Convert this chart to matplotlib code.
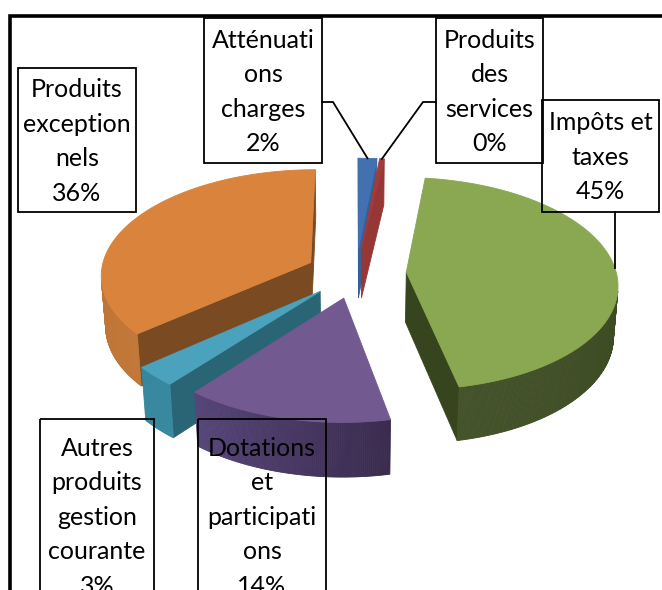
import numpy as np
import matplotlib
matplotlib.use("Agg")
import matplotlib.pyplot as plt
from matplotlib.patches import Polygon, Rectangle
import matplotlib.colors as mcolors

plt.rcParams['font.family'] = ['Lato', 'DejaVu Sans']

# ---------------- data ----------------
categories = ["Atténuations charges", "Produits des services", "Impôts et taxes",
              "Dotations et participations", "Autres produits gestion courante",
              "Produits exceptionnels"]
label_lines = [["Atténuati", "ons", "charges"],
               ["Produits", "des", "services"],
               ["Impôts et", "taxes"],
               ["Dotations", "et", "participati", "ons"],
               ["Autres", "produits", "gestion", "courante"],
               ["Produits", "exception", "nels"]]
values = [1.6, 0.4, 44.8, 14.0, 3.0, 36.2]

top_colors = ['#4271B1', '#A33B38', '#8AA752', '#72598F', '#4AA2BD', '#D9833D']
wall_a = ['#2E5385', '#7E2D2B', '#33401B', '#3A2B4E', '#37889E', '#C27838']
wall_b = ['#2E5385', '#7E2D2B', '#44532A', '#57467A', '#37889E', '#B06A2E']
cut_colors = ['#35609A', '#953735', '#37451F', '#4A3A66', '#2A6575', '#7A4A22']

# label boxes (x0, y0, x1, y1) in pixels
boxes = [(204, 18, 322, 163),
         (436, 18, 543, 163),
         (542, 100, 659, 212),
         (198, 419, 326, 613),
         (40, 419, 154, 613),
         (18, 68, 136, 212)]

# ---------------- geometry ----------------
W, H = 662, 590
CX, CY = 356, 273
S = 210.0
PHI = np.radians(30)
DIST = 8.0
THICK = 0.28
EXPLODE = 0.24
CAM = np.array([0.0, -DIST * np.cos(PHI), DIST * np.sin(PHI)])


def proj(X, Y, Z):
    X = np.asarray(X, float); Y = np.asarray(Y, float); Z = np.asarray(Z, float)
    u = Y * np.sin(PHI) + Z * np.cos(PHI)
    w = Y * np.cos(PHI) - Z * np.sin(PHI)
    f = DIST / (DIST + w)
    return CX + S * X * f, CY - S * u * f


fig = plt.figure(figsize=(W / 100, H / 100), dpi=100)
ax = fig.add_axes([0, 0, 1, 1])
ax.set_xlim(0, W)
ax.set_ylim(H, 0)
ax.axis('off')

vals = np.array(values)
cum = np.concatenate([[0], np.cumsum(vals)]) / vals.sum() * 2 * np.pi
slices = []
for i in range(len(vals)):
    t1, t2 = cum[i], cum[i + 1]
    mid = 0.5 * (t1 + t2)
    ex, ey = EXPLODE * np.sin(mid), EXPLODE * np.cos(mid)
    yc = ey + 0.5 * np.cos(mid) * min(1.0, 1.2 - (t2 - t1) / (2 * np.pi))
    slices.append((yc, i, t1, t2, mid, ex, ey))


def poly(xs, ys, color, z):
    ax.add_patch(Polygon(np.column_stack([xs, ys]), closed=True, facecolor=color,
                         edgecolor=color, lw=0.6, zorder=z, joinstyle='round'))


def mix(c1, c2, a):
    r1 = np.array(mcolors.to_rgb(c1)); r2 = np.array(mcolors.to_rgb(c2))
    return tuple(r1 * (1 - a) + r2 * a)


z = 1
for yc, i, t1, t2, mid, ex, ey in sorted(slices, key=lambda s: -s[0]):
    apex = np.array([ex, ey, 0.0])
    # cut faces
    for th, sign in ((t1, -1), (t2, 1)):
        n = np.array([sign * np.cos(th), -sign * np.sin(th), 0.0])
        if np.dot(n, CAM - apex) > 0:
            ox, oy = np.sin(th) + ex, np.cos(th) + ey
            xs, ys = proj([ex, ox, ox, ex], [ey, oy, oy, ey], [0, 0, -THICK, -THICK])
            poly(xs, ys, cut_colors[i], z)
    # outer wall, visible part with gradient
    th = np.linspace(t1, t2, max(8, int((t2 - t1) * 120)))
    X = np.sin(th) + ex; Y = np.cos(th) + ey
    vis = np.sin(th) * (CAM[0] - X) + np.cos(th) * (CAM[1] - Y) > 0
    xt, yt = proj(X, Y, np.zeros_like(X))
    xb, yb = proj(X, Y, np.full_like(X, -THICK))
    for k in range(len(th) - 1):
        if vis[k] and vis[k + 1]:
            a = (th[k] - t1) / (t2 - t1)
            c = mix(wall_a[i], wall_b[i], a)
            poly([xt[k], xt[k + 1], xb[k + 1], xb[k]],
                 [yt[k], yt[k + 1], yb[k + 1], yb[k]], c, z)
    # top face
    ax_, ay_ = proj(ex, ey, 0)
    poly(np.concatenate([[ax_], xt]), np.concatenate([[ay_], yt]), top_colors[i], z + 0.5)
    z += 1

# ---------------- labels ----------------
PITCH = 34.5
for i, (x0, y0, x1, y1) in enumerate(boxes):
    ax.add_patch(Rectangle((x0, y0), x1 - x0, y1 - y0, fill=False, edgecolor='black',
                           lw=1.3, zorder=20))
    pct = "%d%%" % round(values[i] / sum(values) * 100)
    lines = label_lines[i] + [pct]
    cxl, cyl = (x0 + x1) / 2, (y0 + y1) / 2
    nl = len(lines)
    for k, s in enumerate(lines):
        yy = cyl + (k - (nl - 1) / 2) * PITCH + 8.8
        ax.text(cxl, yy, s, ha='center', va='baseline', fontsize=18, color='black', zorder=21)


def far_point(i):
    _, _, t1, t2, mid, ex, ey = [s for s in slices if s[1] == i][0]
    return proj(np.sin(mid) + ex, np.cos(mid) + ey, 0.0)

# leader lines
px, py = far_point(0)
ax.plot([boxes[0][2], boxes[0][2] + 11, px], [102, 102, py], color='black', lw=1.3, zorder=22)
px, py = far_point(1)
ax.plot([boxes[1][0], boxes[1][0] - 13, px], [102, 102, py], color='black', lw=1.3, zorder=22)
px, py = far_point(2)
ax.plot([px, px], [boxes[2][3], py], color='black', lw=1.3, zorder=22)

# chart frame (cropped)
ax.plot([9.5, 9.5, W + 5], [H + 5, 15.5, 15.5], color='black', lw=2.6, zorder=30,
        solid_joinstyle='miter')

fig.savefig('out.png', dpi=100)
